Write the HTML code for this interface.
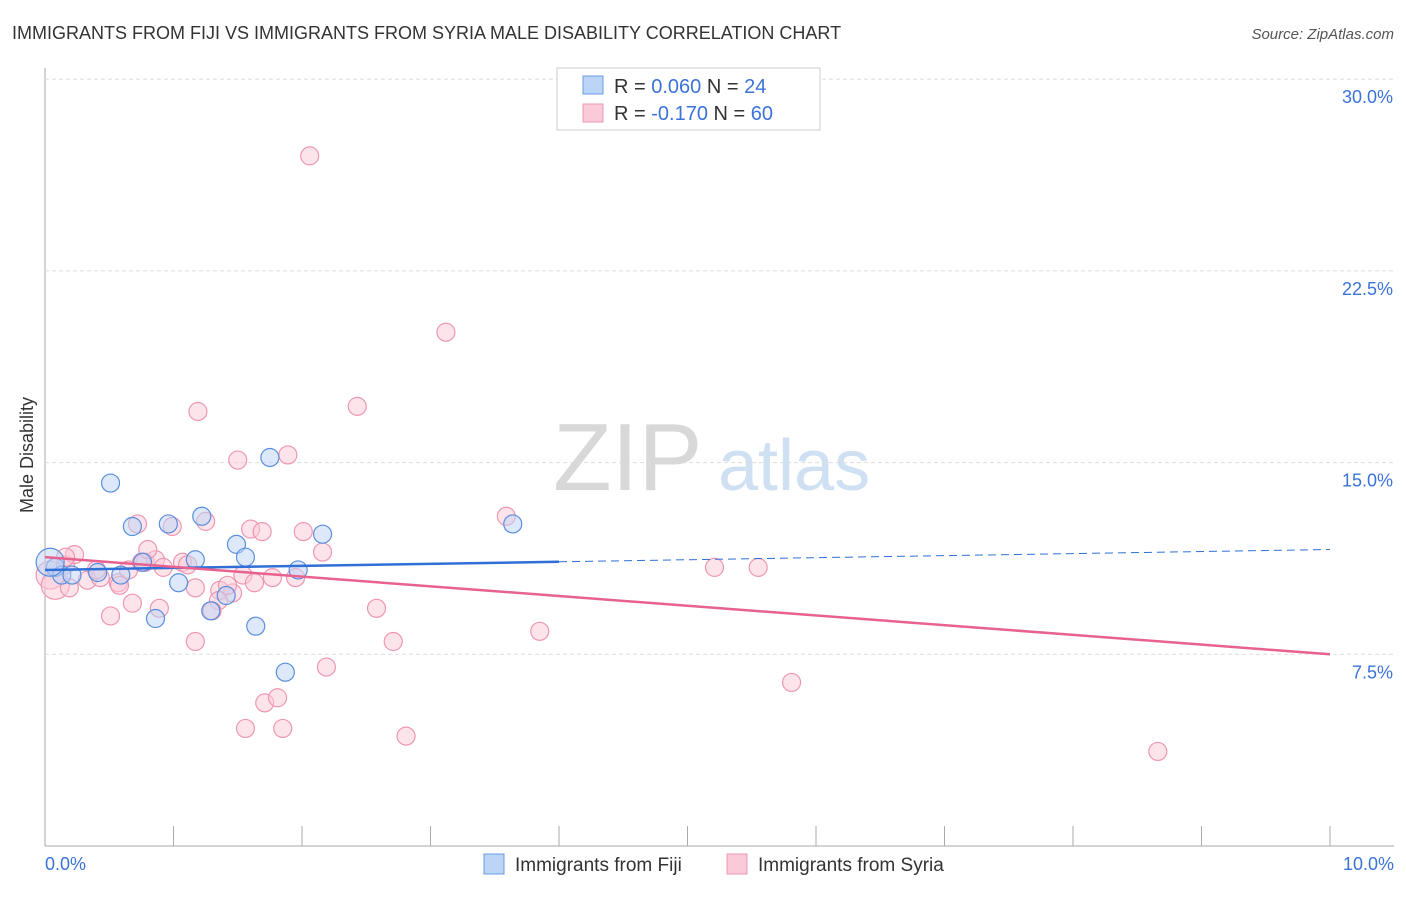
<!DOCTYPE html>
<html><head><meta charset="utf-8"><style>
body{margin:0;background:#fff;font-family:"Liberation Sans",sans-serif}
svg text{font-family:"Liberation Sans",sans-serif}
</style></head><body>
<svg id="c" width="1406" height="892">
<text x="12" y="39" font-size="18" fill="#333">IMMIGRANTS FROM FIJI VS IMMIGRANTS FROM SYRIA MALE DISABILITY CORRELATION CHART</text>
<text x="1394" y="39" font-size="15" fill="#555" font-style="italic" text-anchor="end">Source: ZipAtlas.com</text>
<text x="33" y="455" font-size="18" fill="#333" transform="rotate(-90 33 455)" text-anchor="middle">Male Disability</text>
<g><text x="553" y="490" font-size="96" fill="#d8d8d8" font-family="Liberation Serif">ZIP</text><text x="718" y="490" font-size="72" fill="#cfe0f3">atlas</text></g>
<g id="grid"></g><g id="pts"></g><g id="lines"></g>
<g>
<rect x="557" y="68" width="263" height="62" fill="#fff" stroke="#ccc"/>
<rect x="583" y="76" width="20" height="18" fill="#bcd4f5" stroke="#6a9be0"/>
<rect x="583" y="104" width="20" height="18" fill="#fbcad8" stroke="#ee97b2"/>
<text x="614" y="93" font-size="20" fill="#333">R = <tspan fill="#3b73d9">0.060</tspan>   N = <tspan fill="#3b73d9">24</tspan></text>
<text x="614" y="120" font-size="20" fill="#333">R = <tspan fill="#3b73d9">-0.170</tspan>   N = <tspan fill="#3b73d9">60</tspan></text>
</g>
<g>
<rect x="484" y="854" width="20" height="20" fill="#bcd4f5" stroke="#6a9be0"/>
<text x="515" y="871" font-size="19" fill="#333">Immigrants from Fiji</text>
<rect x="727" y="854" width="20" height="20" fill="#fbcad8" stroke="#ee97b2"/>
<text x="758" y="871" font-size="19" fill="#333">Immigrants from Syria</text>
</g>
</svg>
<script>
const yTicks=[7.5,15,22.5,30];
const yTickLabels=["7.5%","15.0%","22.5%","30.0%"];
const xTickLabels=["0.0%","10.0%"];
const fijiX=[0.51,0.68,0.96,1.22,1.49,1.56,1.75,2.16,3.64,0.08,0.13,0.21,0.41,0.59,0.76,1.04,1.17,0.86,1.29,1.41,1.64,1.87,1.97,0.04];
const fijiY=[14.2,12.5,12.6,12.9,11.8,11.3,15.2,12.2,12.6,10.9,10.6,10.6,10.7,10.6,11.1,10.3,11.2,8.9,9.2,9.8,8.6,6.8,10.8,11.1];
const syriaX=[2.06,3.12,2.43,1.19,1.50,1.89,1.25,1.60,1.69,2.01,0.72,0.99,2.16,3.59,5.21,5.55,0.04,0.08,0.16,0.23,0.19,0.33,0.43,0.57,0.58,0.65,0.78,0.86,0.92,1.07,1.11,1.17,1.36,1.46,1.42,1.35,1.30,0.68,0.51,0.89,1.17,1.54,1.77,1.95,2.58,2.71,3.85,2.19,1.71,1.81,1.56,1.85,2.81,5.81,8.66,0.40,0.16,0.75,1.63,0.80];
const syriaY=[27.0,20.1,17.2,17.0,15.1,15.3,12.7,12.4,12.3,12.3,12.6,12.5,11.5,12.9,10.9,10.9,10.6,10.2,11.0,11.4,10.1,10.4,10.5,10.3,10.2,10.8,11.1,11.2,10.9,11.1,11.0,10.1,10.0,9.9,10.2,9.6,9.2,9.5,9.0,9.3,8.0,10.6,10.5,10.5,9.3,8.0,8.4,7.0,5.6,5.8,4.6,4.6,4.3,6.4,3.7,10.8,11.3,11.1,10.3,11.6];
const fijiFit=[10.8,11.6],syriaFit=[11.3,7.5];
const X=v=>45+v*128.5, Y=v=>846-v*25.56, NS="http://www.w3.org/2000/svg";
function mk(t,a,p){const e=document.createElementNS(NS,t);for(const k in a)e.setAttribute(k,a[k]);p.appendChild(e);return e;}
const g=document.getElementById('grid');
let ax=mk('line',{x1:45,y1:68,x2:45,y2:846,stroke:'#aaa'},g);


let bx=mk('line',{x1:45,y1:846,x2:1394,y2:846,stroke:'#aaa'},g);


yTicks.forEach((v,i)=>{
 const l=mk('line',{x1:45,x2:1394,y1:Y(v),y2:Y(v),stroke:'#ddd','stroke-dasharray':'4 3'},g);
 
 
 const t=mk('text',{x:1393,y:Y(v)+24,'font-size':18,fill:'#3b73d9','text-anchor':'end'},g);
 t.textContent=yTickLabels[i];
 
 
});
for(let i=0;i<=10;i++){const l=mk('line',{x1:X(i),x2:X(i),y1:826,y2:846,stroke:'#aaa'},g);
 
 }
[[0,'start',45],[10,'end',1394]].forEach((a,i)=>{const t=mk('text',{x:a[2],y:870,'font-size':18,fill:'#3b73d9','text-anchor':a[1]},g);t.textContent=xTickLabels[i];
 
 });
const p=document.getElementById('pts');
function dots(xs,ys,f,s,name){xs.forEach((x,i)=>{const big=x<0.1&&i>=15;const c=mk('circle',{cx:X(x),cy:Y(ys[i]),r:big?14:9,fill:f,'fill-opacity':0.5,stroke:s,'stroke-width':1.2},p);
 
 });}
dots(syriaX,syriaY,'#fbcad8','#ee97b2','syria-point');
dots(fijiX,fijiY,'#bcd4f5','#5a8ede','fiji-point');
const L=document.getElementById('lines');
const fy=x=>fijiFit[0]+(fijiFit[1]-fijiFit[0])*x/10;
let a=mk('line',{x1:X(0),y1:Y(fy(0)),x2:X(4),y2:Y(fy(4)),stroke:'#2f6fd6','stroke-width':2.5},L);


let b=mk('line',{x1:X(4),y1:Y(fy(4)),x2:X(10),y2:Y(fy(10)),stroke:'#2f6fd6','stroke-width':1,'stroke-dasharray':'8 5'},L);


let c=mk('line',{x1:X(0),y1:Y(syriaFit[0]),x2:X(10),y2:Y(syriaFit[1]),stroke:'#e8628f','stroke-width':2.5},L);


</script>
</body></html>
